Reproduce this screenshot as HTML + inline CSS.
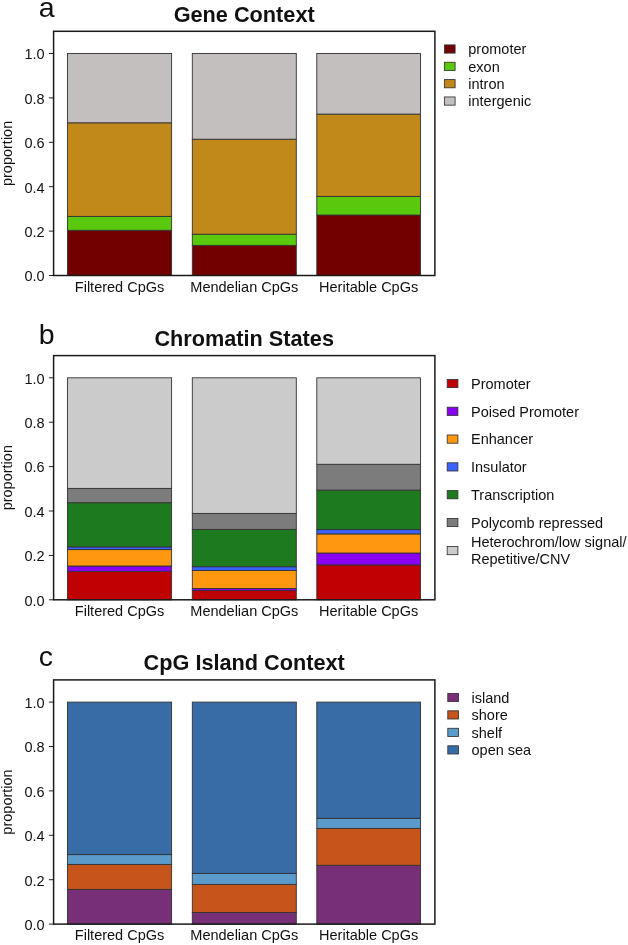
<!DOCTYPE html><html><head><meta charset="utf-8"><style>html,body{margin:0;padding:0;background:#fff;}svg{display:block;will-change:transform}text{font-family:"Liberation Sans",sans-serif;fill:#111}</style></head><body>
<svg width="628" height="945" viewBox="0 0 628 945">
<text x="38.8" y="17.0" font-size="28.5">a</text>
<text x="244.2" y="21.5" font-size="21.7" font-weight="bold" text-anchor="middle">Gene Context</text>
<rect x="67.50" y="230.30" width="104.10" height="45.20" fill="#730000" stroke="#333" stroke-width="0.9"/>
<rect x="67.50" y="216.40" width="104.10" height="13.90" fill="#5AC80C" stroke="#333" stroke-width="0.9"/>
<rect x="67.50" y="122.80" width="104.10" height="93.60" fill="#C1881A" stroke="#333" stroke-width="0.9"/>
<rect x="67.50" y="53.50" width="104.10" height="69.30" fill="#C3BFBF" stroke="#333" stroke-width="0.9"/>
<rect x="192.30" y="245.40" width="104.00" height="30.10" fill="#730000" stroke="#333" stroke-width="0.9"/>
<rect x="192.30" y="234.20" width="104.00" height="11.20" fill="#5AC80C" stroke="#333" stroke-width="0.9"/>
<rect x="192.30" y="139.20" width="104.00" height="95.00" fill="#C1881A" stroke="#333" stroke-width="0.9"/>
<rect x="192.30" y="53.50" width="104.00" height="85.70" fill="#C3BFBF" stroke="#333" stroke-width="0.9"/>
<rect x="316.80" y="215.00" width="103.70" height="60.50" fill="#730000" stroke="#333" stroke-width="0.9"/>
<rect x="316.80" y="196.40" width="103.70" height="18.60" fill="#5AC80C" stroke="#333" stroke-width="0.9"/>
<rect x="316.80" y="114.10" width="103.70" height="82.30" fill="#C1881A" stroke="#333" stroke-width="0.9"/>
<rect x="316.80" y="53.50" width="103.70" height="60.60" fill="#C3BFBF" stroke="#333" stroke-width="0.9"/>
<rect x="53.6" y="31.30" width="381.30" height="244.20" fill="none" stroke="#1a1a1a" stroke-width="1.5"/>
<line x1="48.9" y1="275.50" x2="53.6" y2="275.50" stroke="#000" stroke-width="0.85"/>
<text x="44.6" y="281.30" font-size="14.5" text-anchor="end">0.0</text>
<line x1="48.9" y1="231.10" x2="53.6" y2="231.10" stroke="#000" stroke-width="0.85"/>
<text x="44.6" y="236.90" font-size="14.5" text-anchor="end">0.2</text>
<line x1="48.9" y1="186.70" x2="53.6" y2="186.70" stroke="#000" stroke-width="0.85"/>
<text x="44.6" y="192.50" font-size="14.5" text-anchor="end">0.4</text>
<line x1="48.9" y1="142.30" x2="53.6" y2="142.30" stroke="#000" stroke-width="0.85"/>
<text x="44.6" y="148.10" font-size="14.5" text-anchor="end">0.6</text>
<line x1="48.9" y1="97.90" x2="53.6" y2="97.90" stroke="#000" stroke-width="0.85"/>
<text x="44.6" y="103.70" font-size="14.5" text-anchor="end">0.8</text>
<line x1="48.9" y1="53.50" x2="53.6" y2="53.50" stroke="#000" stroke-width="0.85"/>
<text x="44.6" y="59.30" font-size="14.5" text-anchor="end">1.0</text>
<text x="119.55" y="291.80" font-size="14.5" text-anchor="middle">Filtered CpGs</text>
<text x="244.30" y="291.80" font-size="14.5" text-anchor="middle">Mendelian CpGs</text>
<text x="368.65" y="291.80" font-size="14.5" text-anchor="middle">Heritable CpGs</text>
<text transform="translate(12.4 153.40) rotate(-90)" x="0" y="0" font-size="14.5" text-anchor="middle">proportion</text>
<rect x="444.40" y="44.90" width="10.7" height="8.2" fill="#730000" stroke="#333" stroke-width="0.85"/>
<text x="468.3" y="54.20" font-size="14.5">promoter</text>
<rect x="444.40" y="62.25" width="10.7" height="8.2" fill="#5AC80C" stroke="#333" stroke-width="0.85"/>
<text x="468.3" y="71.55" font-size="14.5">exon</text>
<rect x="444.40" y="79.60" width="10.7" height="8.2" fill="#C1881A" stroke="#333" stroke-width="0.85"/>
<text x="468.3" y="88.90" font-size="14.5">intron</text>
<rect x="444.40" y="96.95" width="10.7" height="8.2" fill="#C3BFBF" stroke="#333" stroke-width="0.85"/>
<text x="468.3" y="106.25" font-size="14.5">intergenic</text>
<text x="38.8" y="343.5" font-size="28.5">b</text>
<text x="244.2" y="345.8" font-size="21.7" font-weight="bold" text-anchor="middle">Chromatin States</text>
<rect x="67.50" y="571.50" width="104.10" height="28.30" fill="#C00000" stroke="#333" stroke-width="0.9"/>
<rect x="67.50" y="566.00" width="104.10" height="5.50" fill="#8A00F0" stroke="#333" stroke-width="0.9"/>
<rect x="67.50" y="549.60" width="104.10" height="16.40" fill="#FF980E" stroke="#333" stroke-width="0.9"/>
<rect x="67.50" y="546.90" width="104.10" height="2.70" fill="#3A62FF" stroke="#333" stroke-width="0.9"/>
<rect x="67.50" y="502.70" width="104.10" height="44.20" fill="#1E7A1E" stroke="#333" stroke-width="0.9"/>
<rect x="67.50" y="488.40" width="104.10" height="14.30" fill="#7C7C7C" stroke="#333" stroke-width="0.9"/>
<rect x="67.50" y="377.80" width="104.10" height="110.60" fill="#CBCBCB" stroke="#333" stroke-width="0.9"/>
<rect x="192.30" y="590.40" width="104.00" height="9.40" fill="#C00000" stroke="#333" stroke-width="0.9"/>
<rect x="192.30" y="588.50" width="104.00" height="1.90" fill="#8A00F0" stroke="#333" stroke-width="0.9"/>
<rect x="192.30" y="570.40" width="104.00" height="18.10" fill="#FF980E" stroke="#333" stroke-width="0.9"/>
<rect x="192.30" y="566.70" width="104.00" height="3.70" fill="#3A62FF" stroke="#333" stroke-width="0.9"/>
<rect x="192.30" y="529.40" width="104.00" height="37.30" fill="#1E7A1E" stroke="#333" stroke-width="0.9"/>
<rect x="192.30" y="513.40" width="104.00" height="16.00" fill="#7C7C7C" stroke="#333" stroke-width="0.9"/>
<rect x="192.30" y="377.80" width="104.00" height="135.60" fill="#CBCBCB" stroke="#333" stroke-width="0.9"/>
<rect x="316.80" y="564.90" width="103.70" height="34.90" fill="#C00000" stroke="#333" stroke-width="0.9"/>
<rect x="316.80" y="553.00" width="103.70" height="11.90" fill="#8A00F0" stroke="#333" stroke-width="0.9"/>
<rect x="316.80" y="533.90" width="103.70" height="19.10" fill="#FF980E" stroke="#333" stroke-width="0.9"/>
<rect x="316.80" y="529.60" width="103.70" height="4.30" fill="#3A62FF" stroke="#333" stroke-width="0.9"/>
<rect x="316.80" y="490.10" width="103.70" height="39.50" fill="#1E7A1E" stroke="#333" stroke-width="0.9"/>
<rect x="316.80" y="464.30" width="103.70" height="25.80" fill="#7C7C7C" stroke="#333" stroke-width="0.9"/>
<rect x="316.80" y="377.80" width="103.70" height="86.50" fill="#CBCBCB" stroke="#333" stroke-width="0.9"/>
<rect x="53.6" y="355.60" width="381.30" height="244.20" fill="none" stroke="#1a1a1a" stroke-width="1.5"/>
<line x1="48.9" y1="599.80" x2="53.6" y2="599.80" stroke="#000" stroke-width="0.85"/>
<text x="44.6" y="605.60" font-size="14.5" text-anchor="end">0.0</text>
<line x1="48.9" y1="555.40" x2="53.6" y2="555.40" stroke="#000" stroke-width="0.85"/>
<text x="44.6" y="561.20" font-size="14.5" text-anchor="end">0.2</text>
<line x1="48.9" y1="511.00" x2="53.6" y2="511.00" stroke="#000" stroke-width="0.85"/>
<text x="44.6" y="516.80" font-size="14.5" text-anchor="end">0.4</text>
<line x1="48.9" y1="466.60" x2="53.6" y2="466.60" stroke="#000" stroke-width="0.85"/>
<text x="44.6" y="472.40" font-size="14.5" text-anchor="end">0.6</text>
<line x1="48.9" y1="422.20" x2="53.6" y2="422.20" stroke="#000" stroke-width="0.85"/>
<text x="44.6" y="428.00" font-size="14.5" text-anchor="end">0.8</text>
<line x1="48.9" y1="377.80" x2="53.6" y2="377.80" stroke="#000" stroke-width="0.85"/>
<text x="44.6" y="383.60" font-size="14.5" text-anchor="end">1.0</text>
<text x="119.55" y="616.10" font-size="14.5" text-anchor="middle">Filtered CpGs</text>
<text x="244.30" y="616.10" font-size="14.5" text-anchor="middle">Mendelian CpGs</text>
<text x="368.65" y="616.10" font-size="14.5" text-anchor="middle">Heritable CpGs</text>
<text transform="translate(12.4 477.70) rotate(-90)" x="0" y="0" font-size="14.5" text-anchor="middle">proportion</text>
<rect x="447.20" y="379.40" width="10.7" height="8.2" fill="#C00000" stroke="#333" stroke-width="0.85"/>
<text x="471.0" y="388.70" font-size="14.5">Promoter</text>
<rect x="447.20" y="407.20" width="10.7" height="8.2" fill="#8A00F0" stroke="#333" stroke-width="0.85"/>
<text x="471.0" y="416.50" font-size="14.5">Poised Promoter</text>
<rect x="447.20" y="435.00" width="10.7" height="8.2" fill="#FF980E" stroke="#333" stroke-width="0.85"/>
<text x="471.0" y="444.30" font-size="14.5">Enhancer</text>
<rect x="447.20" y="462.80" width="10.7" height="8.2" fill="#3A62FF" stroke="#333" stroke-width="0.85"/>
<text x="471.0" y="472.10" font-size="14.5">Insulator</text>
<rect x="447.20" y="490.60" width="10.7" height="8.2" fill="#1E7A1E" stroke="#333" stroke-width="0.85"/>
<text x="471.0" y="499.90" font-size="14.5">Transcription</text>
<rect x="447.20" y="518.40" width="10.7" height="8.2" fill="#7C7C7C" stroke="#333" stroke-width="0.85"/>
<text x="471.0" y="527.70" font-size="14.5">Polycomb repressed</text>
<rect x="447.20" y="546.50" width="10.7" height="8.2" fill="#CBCBCB" stroke="#333" stroke-width="0.85"/>
<text x="471.0" y="547.20" font-size="14.5">Heterochrom/low signal/</text>
<text x="471.0" y="564.40" font-size="14.5">Repetitive/CNV</text>
<text x="38.8" y="665.5" font-size="28.5">c</text>
<text x="244.2" y="670.1" font-size="21.7" font-weight="bold" text-anchor="middle">CpG Island Context</text>
<rect x="67.50" y="889.40" width="104.10" height="34.70" fill="#773078" stroke="#333" stroke-width="0.9"/>
<rect x="67.50" y="864.40" width="104.10" height="25.00" fill="#C6541B" stroke="#333" stroke-width="0.9"/>
<rect x="67.50" y="854.60" width="104.10" height="9.80" fill="#5A9BCB" stroke="#333" stroke-width="0.9"/>
<rect x="67.50" y="702.10" width="104.10" height="152.50" fill="#386CA6" stroke="#333" stroke-width="0.9"/>
<rect x="192.30" y="912.50" width="104.00" height="11.60" fill="#773078" stroke="#333" stroke-width="0.9"/>
<rect x="192.30" y="884.40" width="104.00" height="28.10" fill="#C6541B" stroke="#333" stroke-width="0.9"/>
<rect x="192.30" y="873.40" width="104.00" height="11.00" fill="#5A9BCB" stroke="#333" stroke-width="0.9"/>
<rect x="192.30" y="702.10" width="104.00" height="171.30" fill="#386CA6" stroke="#333" stroke-width="0.9"/>
<rect x="316.80" y="865.30" width="103.70" height="58.80" fill="#773078" stroke="#333" stroke-width="0.9"/>
<rect x="316.80" y="828.40" width="103.70" height="36.90" fill="#C6541B" stroke="#333" stroke-width="0.9"/>
<rect x="316.80" y="818.30" width="103.70" height="10.10" fill="#5A9BCB" stroke="#333" stroke-width="0.9"/>
<rect x="316.80" y="702.10" width="103.70" height="116.20" fill="#386CA6" stroke="#333" stroke-width="0.9"/>
<rect x="53.6" y="679.90" width="381.30" height="244.20" fill="none" stroke="#1a1a1a" stroke-width="1.5"/>
<line x1="48.9" y1="924.10" x2="53.6" y2="924.10" stroke="#000" stroke-width="0.85"/>
<text x="44.6" y="929.90" font-size="14.5" text-anchor="end">0.0</text>
<line x1="48.9" y1="879.70" x2="53.6" y2="879.70" stroke="#000" stroke-width="0.85"/>
<text x="44.6" y="885.50" font-size="14.5" text-anchor="end">0.2</text>
<line x1="48.9" y1="835.30" x2="53.6" y2="835.30" stroke="#000" stroke-width="0.85"/>
<text x="44.6" y="841.10" font-size="14.5" text-anchor="end">0.4</text>
<line x1="48.9" y1="790.90" x2="53.6" y2="790.90" stroke="#000" stroke-width="0.85"/>
<text x="44.6" y="796.70" font-size="14.5" text-anchor="end">0.6</text>
<line x1="48.9" y1="746.50" x2="53.6" y2="746.50" stroke="#000" stroke-width="0.85"/>
<text x="44.6" y="752.30" font-size="14.5" text-anchor="end">0.8</text>
<line x1="48.9" y1="702.10" x2="53.6" y2="702.10" stroke="#000" stroke-width="0.85"/>
<text x="44.6" y="707.90" font-size="14.5" text-anchor="end">1.0</text>
<text x="119.55" y="940.40" font-size="14.5" text-anchor="middle">Filtered CpGs</text>
<text x="244.30" y="940.40" font-size="14.5" text-anchor="middle">Mendelian CpGs</text>
<text x="368.65" y="940.40" font-size="14.5" text-anchor="middle">Heritable CpGs</text>
<text transform="translate(12.4 802.00) rotate(-90)" x="0" y="0" font-size="14.5" text-anchor="middle">proportion</text>
<rect x="447.80" y="693.40" width="10.7" height="8.2" fill="#773078" stroke="#333" stroke-width="0.85"/>
<text x="471.5" y="702.70" font-size="14.5">island</text>
<rect x="447.80" y="710.80" width="10.7" height="8.2" fill="#C6541B" stroke="#333" stroke-width="0.85"/>
<text x="471.5" y="720.10" font-size="14.5">shore</text>
<rect x="447.80" y="728.30" width="10.7" height="8.2" fill="#5A9BCB" stroke="#333" stroke-width="0.85"/>
<text x="471.5" y="737.60" font-size="14.5">shelf</text>
<rect x="447.80" y="745.80" width="10.7" height="8.2" fill="#386CA6" stroke="#333" stroke-width="0.85"/>
<text x="471.5" y="755.10" font-size="14.5">open sea</text>
</svg></body></html>
